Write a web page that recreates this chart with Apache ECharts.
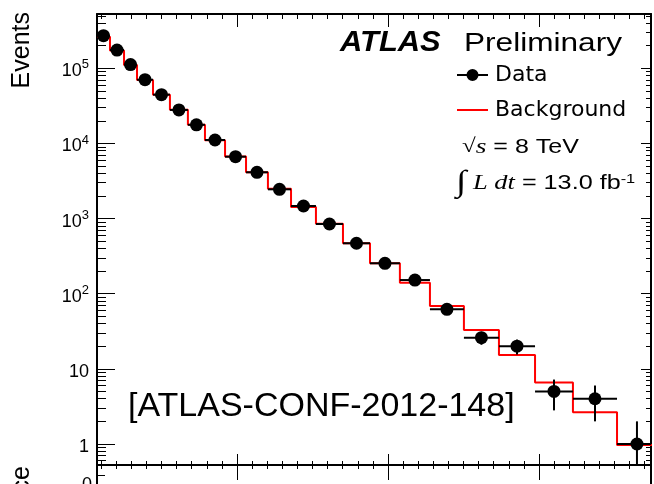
<!DOCTYPE html>
<html><head><meta charset="utf-8">
<script src="https://cdn.jsdelivr.net/npm/echarts@6/dist/echarts.min.js"></script>
<style>html,body{margin:0;padding:0;background:#fff}#c{width:654px;height:484px}</style>
</head><body><div id="c"></div>
<script>
// ---- data ----
const binEdges = [1.073,1.159,1.252,1.338,1.444,1.556,1.675,1.788,1.921,2.060,2.205,2.358,2.523,2.702,2.881,3.079,3.278,3.503,3.735,3.974,4.225,4.517,4.781];
const dataCounts = [272000,175000,112000,70500,44600,27900,17700,11100,6660,4130,2450,1470,847,469,254,152,62,26,20,5,4,1];
const dataErrors = [522,418,335,266,211,167,133,105,82,64,49,38,29,22,16,12,7.9,5.1,4.5,2.2,2.0,1.0];
const bkgCounts = [262000,172000,111000,70000,44500,28000,17700,11000,6700,4150,2500,1430,850,470,255,140,68.7,32.9,15.3,6.6,2.64,0.97];
const yMajorTicks = [1,10,100,1000,10000,100000];
const yTickLabels = ['1','10','10^2','10^3','10^4','10^5'];
const xMajorTicks = [2,3,4];

const X_MIN = 1.073, X_MAX = 4.742, Y_MIN = 0.525, Y_MAX = 528000;

const xMinorTicks = [];
for (let k = 11; k <= 47; k++) if (k % 10 !== 0) xMinorTicks.push(k / 10);
const yMinorTicks = [0.6,0.7,0.8,0.9];
for (let d = 1; d <= 100000; d *= 10) for (let m = 2; m <= 9; m++) if (m * d <= Y_MAX) yMinorTicks.push(m * d);

const centers = dataCounts.map((v, i) => (binEdges[i] + binEdges[i + 1]) / 2);
const bkgStep = [];
bkgCounts.forEach((b, i) => { bkgStep.push([binEdges[i], b]); bkgStep.push([binEdges[i + 1], b]); });

const BLACK = '#000';
const SANS = '"Liberation Sans", Arial, sans-serif';
const SERIF = '"Liberation Serif", "Times New Roman", serif';

function xAx(extra) {
  return Object.assign({
    type: 'value', min: X_MIN, max: X_MAX, gridIndex: 0,
    axisLine: { show: false, onZero: false, lineStyle: { color: BLACK, width: 2 } },
    axisTick: { show: false }, axisLabel: { show: false }, splitLine: { show: false }
  }, extra);
}
function yAx(extra) {
  return Object.assign({
    type: 'log', min: Y_MIN, max: Y_MAX, gridIndex: 0,
    axisLine: { show: false, onZero: false, lineStyle: { color: BLACK, width: 2 } },
    axisTick: { show: false }, axisLabel: { show: false }, splitLine: { show: false }
  }, extra);
}
function ticks(vals, len) {
  return { show: true, inside: true, length: len, customValues: vals, lineStyle: { color: BLACK, width: 1 } };
}

const chart = echarts.init(document.getElementById('c'), null, { renderer: 'canvas' });
chart.setOption({
  animation: false,
  backgroundColor: '#fff',
  grid: [
    { left: 97, top: 14, width: 554, height: 451, outerBoundsMode: 'none' },
    { left: 97, top: 465, width: 554, height: 40, outerBoundsMode: 'none' }
  ],
  xAxis: [
    xAx({ position: 'bottom', axisLine: { show: true, onZero: false, lineStyle: { color: BLACK, width: 2 } } }),
    xAx({ position: 'bottom', axisTick: ticks(xMajorTicks, 11) }),
    xAx({ position: 'bottom', axisTick: ticks(xMinorTicks, 4) }),
    xAx({ position: 'top', axisLine: { show: true, onZero: false, lineStyle: { color: BLACK, width: 2 } }, axisTick: ticks(xMajorTicks, 13) }),
    xAx({ position: 'top', axisTick: ticks(xMinorTicks, 5) }),
    xAx({ gridIndex: 1, position: 'top', axisLine: { show: true, onZero: false, lineStyle: { color: BLACK, width: 2 } }, axisTick: ticks(xMajorTicks, 15) }),
    xAx({ gridIndex: 1, position: 'top', axisTick: ticks(xMinorTicks, 4) })
  ],
  yAxis: [
    yAx({
      position: 'left',
      axisLine: { show: true, onZero: false, lineStyle: { color: BLACK, width: 2 } },
      axisTick: ticks(yMajorTicks, 18),
      axisLabel: {
        show: true, customValues: yMajorTicks, margin: 8,
        color: BLACK, fontFamily: SANS, fontSize: 18, padding: [6, 0, 0, 0],
        formatter: function (v) {
          const i = Math.round(Math.log10(v));
          const lab = yTickLabels[i] || '';
          const parts = lab.split('^');
          return parts.length > 1 ? '{b|' + parts[0] + '}{s|' + parts[1] + '}' : '{b|' + lab + '}';
        },
        rich: {
          b: { fontSize: 18, fontFamily: SANS, color: BLACK },
          s: { fontSize: 13, fontFamily: SANS, color: BLACK, padding: [0, 0, 13, 0] }
        }
      }
    }),
    yAx({ position: 'left', axisTick: ticks(yMinorTicks, 9) }),
    yAx({ position: 'right', axisLine: { show: true, onZero: false, lineStyle: { color: BLACK, width: 2 } }, axisTick: ticks(yMajorTicks, 10) }),
    yAx({ position: 'right', axisTick: ticks(yMinorTicks, 5) }),
    {
      type: 'value', gridIndex: 1, min: -2, max: 2, position: 'left',
      axisLine: { show: true, onZero: false, lineStyle: { color: BLACK, width: 2 } },
      axisTick: ticks([0, 1], 8),
      axisLabel: { show: true, customValues: [0], color: BLACK, fontFamily: SANS, fontSize: 18, margin: 5 },
      splitLine: { show: false }
    },
    {
      type: 'value', gridIndex: 1, min: -2, max: 2, position: 'right',
      axisLine: { show: true, onZero: false, lineStyle: { color: BLACK, width: 2 } },
      axisTick: { show: false }, axisLabel: { show: false }, splitLine: { show: false }
    }
  ],
  legend: {
    orient: 'vertical', left: 452, top: 57, itemWidth: 31, itemHeight: 12, itemGap: 9,
    selectedMode: false,
    itemStyle: { borderWidth: 0, opacity: 1 },
    textStyle: { fontFamily: '"DejaVu Sans", sans-serif', fontSize: 22, color: BLACK, lineHeight: 26, padding: [0, 0, 0, 2] },
    data: [
      { name: 'Data', icon: 'path://M0,5H31V7H0ZM15.5,0A6,6,0,1,1,15.5,12A6,6,0,1,1,15.5,0Z' },
      { name: 'Background', icon: 'path://M0,0H31V2H0Z' }
    ]
  },
  series: [
    {
      name: 'Background', type: 'line', xAxisIndex: 0, yAxisIndex: 0,
      data: bkgStep, symbol: 'none', color: '#ff0000',
      lineStyle: { color: '#ff0000', width: 2 }, clip: true, z: 2,
      emphasis: { disabled: true }
    },
    {
      name: 'Data', type: 'custom', xAxisIndex: 0, yAxisIndex: 0, clip: true, z: 3,
      color: BLACK,
      data: dataCounts.map((v, i) => [binEdges[i], binEdges[i + 1], centers[i], v, dataErrors[i]]),
      encode: { x: [0, 1, 2], y: 3 },
      renderItem: function (params, api) {
        const xl = api.value(0), xh = api.value(1), xc = api.value(2), y = api.value(3), e = api.value(4);
        const pL = api.coord([xl, y]), pH = api.coord([xh, y]);
        const pT = api.coord([xc, y + e]), pB = api.coord([xc, Math.max(y - e, 0.3)]);
        return {
          type: 'group', children: [
            { type: 'line', shape: { x1: pL[0], y1: pL[1], x2: pH[0], y2: pH[1] }, style: { stroke: BLACK, lineWidth: 2 } },
            { type: 'line', shape: { x1: pT[0], y1: pT[1], x2: pB[0], y2: pB[1] }, style: { stroke: BLACK, lineWidth: 2 } }
          ]
        };
      },
      emphasis: { disabled: true }
    },
    {
      name: 'Data', type: 'scatter', xAxisIndex: 0, yAxisIndex: 0, z: 4,
      data: dataCounts.map((v, i) => [centers[i], v]),
      symbol: 'circle', symbolSize: 13, itemStyle: { color: BLACK, opacity: 1 },
      emphasis: { disabled: true }
    }
  ],
  graphic: [
    { type: 'text', x: 340, y: 42.5, scaleX: 1.03,
      style: { text: 'ATLAS', font: 'italic bold 30px ' + SANS, fill: BLACK, align: 'left', verticalAlign: 'middle' } },
    { type: 'text', x: 464, y: 44, scaleX: 1.215,
      style: { text: 'Preliminary', font: '26px ' + SANS, fill: BLACK, align: 'left', verticalAlign: 'middle' } },
    { type: 'text', x: 462, y: 147, scaleX: 1.25,
      style: {
        text: '{r|√}{i|s}{n| = 8 TeV}', fill: BLACK, align: 'left', verticalAlign: 'middle',
        rich: {
          r: { fontFamily: SERIF, fontSize: 20, fill: BLACK },
          i: { fontFamily: SERIF, fontStyle: 'italic', fontSize: 22, fill: BLACK },
          n: { fontFamily: SANS, fontSize: 20, fill: BLACK }
        }
      } },
    { type: 'text', x: 456, y: 183.5, scaleX: 1.26,
      style: {
        text: '{int|∫}{i| L dt}{n| = 13.0 fb}{sup|-1}', fill: BLACK, align: 'left', verticalAlign: 'middle',
        rich: {
          int: { fontFamily: SERIF, fontSize: 30, fill: BLACK },
          i: { fontFamily: SERIF, fontStyle: 'italic', fontSize: 21, fill: BLACK },
          n: { fontFamily: SANS, fontSize: 20, fill: BLACK },
          sup: { fontFamily: SANS, fontSize: 13, fill: BLACK, padding: [0, 0, 8, 0] }
        }
      } },
    { type: 'text', x: 128, y: 406.5, scaleX: 1.03,
      style: { text: '[ATLAS-CONF-2012-148]', font: '33px ' + SANS, fill: BLACK, align: 'left', verticalAlign: 'middle' } },
    { type: 'text', x: 22.5, y: 12, rotation: Math.PI / 2,
      style: { text: 'Events', font: '25px ' + SANS, fill: BLACK, align: 'right', verticalAlign: 'middle' } },
    { type: 'text', x: 22.5, y: 466, rotation: Math.PI / 2,
      style: { text: 'Significance', font: '25px ' + SANS, fill: BLACK, align: 'right', verticalAlign: 'middle' } }
  ]
});
</script></body></html>
